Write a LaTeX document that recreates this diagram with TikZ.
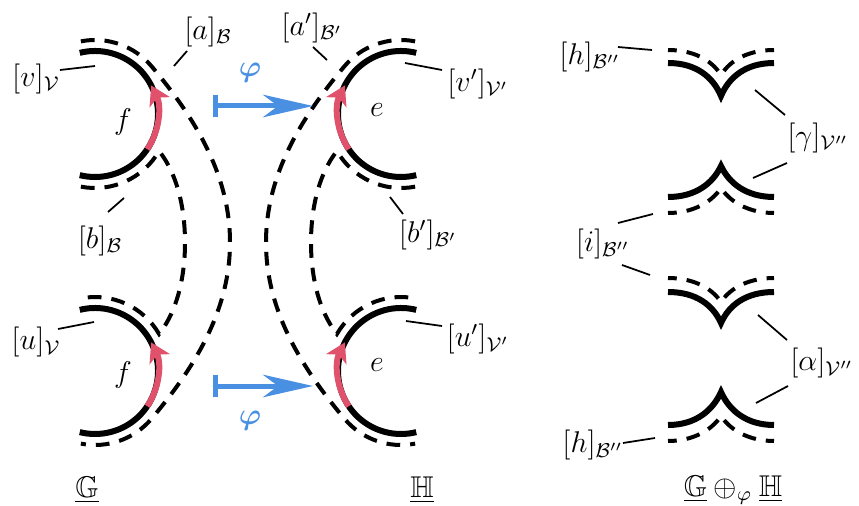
\documentclass[tikz,border=0pt]{standalone}
\usepackage{amssymb}
\usepackage{bm}
\usetikzlibrary{arrows.meta,calc}
\definecolor{phiblue}{RGB}{74,144,226}
\definecolor{edgered}{RGB}{224,82,108}
\begin{document}
\begin{tikzpicture}[x=0.4pt,y=-0.4pt,
  solidedge/.style={line width=2.4pt},
  dashedge/.style={line width=1.6pt, dash pattern=on 5.5pt off 4pt},
  vdash/.style={line width=1.6pt, dash pattern=on 5.5pt off 4pt, dash phase=2pt},
  redarc/.style={edgered, line width=2.4pt, -{Stealth[length=7.5pt,width=9pt,inset=2pt]}},
  phiarrow/.style={phiblue, line width=2pt, {Bar[width=9pt]}-{Stealth[length=20pt,width=9pt,inset=6pt]}},
  leader/.style={line width=0.7pt},
  every node/.style={font=\large, inner sep=1pt}]
\useasboundingbox (0,0) rectangle (859,506);

% vertex centres
\coordinate (GT) at (95,114);
\coordinate (GB) at (95,371);
\coordinate (HT) at (401,114);
\coordinate (HB) at (401,371);

% solid half edges
\draw[solidedge] ($(GT)+(-104:63)$) arc[start angle=-104,end angle=104,radius=63];
\draw[solidedge] ($(GB)+(-104:63)$) arc[start angle=-104,end angle=104,radius=63];
\draw[solidedge] ($(HT)+(-76:63)$) arc[start angle=-76,end angle=-284,radius=63];
\draw[solidedge] ($(HB)+(-76:63)$) arc[start angle=-76,end angle=-284,radius=63];

% red arrows
\draw[redarc] ($(GT)+(34:63)$) arc[start angle=34,end angle=-27,radius=63];
\draw[redarc] ($(GB)+(34:63)$) arc[start angle=34,end angle=-27,radius=63];
\draw[redarc] ($(HT)+(146:63)$) arc[start angle=146,end angle=207,radius=63];
\draw[redarc] ($(HB)+(146:63)$) arc[start angle=146,end angle=207,radius=63];

% dashed curves, G
\draw[dashedge] ($(GT)+(-101:74)$) arc[start angle=-101,end angle=-40,radius=74]
  .. controls (195,118) and (230,175) .. (230,242.5)
  .. controls (230,310) and (195,367) .. ($(GB)+(40:74)$)
  arc[start angle=40,end angle=101,radius=74];
\draw[dashedge] ($(GT)+(101:74)$) arc[start angle=101,end angle=30,radius=74]
  .. controls (178,175) and (185,210) .. (185,242.5)
  .. controls (185,275) and (178,310) .. ($(GB)+(-30:74)$)
  arc[start angle=-30,end angle=-101,radius=74];
% dashed curves, H
\draw[dashedge] ($(HT)+(-79:74)$) arc[start angle=-79,end angle=-140,radius=74]
  .. controls (301,118) and (266,175) .. (266,242.5)
  .. controls (266,310) and (301,367) .. ($(HB)+(140:74)$)
  arc[start angle=140,end angle=79,radius=74];
\draw[dashedge] ($(HT)+(79:74)$) arc[start angle=79,end angle=150,radius=74]
  .. controls (318,175) and (311,210) .. (311,242.5)
  .. controls (311,275) and (318,310) .. ($(HB)+(210:74)$)
  arc[start angle=210,end angle=281,radius=74];

% blue maps
\coordinate (p1a) at (213,106);
\coordinate (p1b) at (313,106);
\coordinate (p2a) at (213,386);
\coordinate (p2b) at (313,386);
\draw[phiarrow] (p1a) -- (p1b);
\draw[phiarrow] (p2a) -- (p2b);
\node[text=phiblue] (phi1) at (250,73) {$\bm{\varphi}$};
\node[text=phiblue] (phi2) at (250,421) {$\bm{\varphi}$};

% edge names
\node (f1) at (123,122) {$f$};
\node (f2) at (123,375) {$f$};
\node (e1) at (377,110) {$e$};
\node (e2) at (377,365) {$e$};

% labels G / H
\node (lv) at (36,79) {$[v]_{\mathcal V}$};
\node (la) at (208,32) {$[a]_{\mathcal B}$};
\node (lb) at (100,241) {$[b]_{\mathcal B}$};
\node (lu) at (36,342) {$[u]_{\mathcal V}$};
\node (lap) at (312,28) {$[a']_{\mathcal B'}$};
\node (lvp) at (478,84) {$[v']_{\mathcal V'}$};
\node (lbp) at (428,235) {$[b']_{\mathcal B'}$};
\node (lup) at (478,339) {$[u']_{\mathcal V'}$};

\coordinate (lv1) at (60,70);   \coordinate (lv2) at (95,66);
\coordinate (la1) at (174,66);  \coordinate (la2) at (187,51);
\coordinate (lb1) at (108,212); \coordinate (lb2) at (124,198);
\coordinate (lu1) at (58,329);  \coordinate (lu2) at (94,322);
\coordinate (lap1) at (313,47); \coordinate (lap2) at (327,60);
\coordinate (lvp1) at (405,63); \coordinate (lvp2) at (442,70);
\coordinate (lbp1) at (390,197);\coordinate (lbp2) at (403,214);
\coordinate (lup1) at (406,321);\coordinate (lup2) at (442,326);
\draw[leader] (lv1) -- (lv2);
\draw[leader] (la1) -- (la2);
\draw[leader] (lb1) -- (lb2);
\draw[leader] (lu1) -- (lu2);
\draw[leader] (lap1) -- (lap2);
\draw[leader] (lvp1) -- (lvp2);
\draw[leader] (lbp1) -- (lbp2);
\draw[leader] (lup1) -- (lup2);

% glued graph
\draw[solidedge] (668,63) .. controls (696,63) and (713,77) .. (721,96) .. controls (729,77) and (746,63) .. (774,63);
\draw[vdash] (668,50) .. controls (692,50) and (711,59) .. (721,75) .. controls (731,59) and (750,50) .. (774,50);
\draw[solidedge] (668,197) .. controls (696,197) and (713,183) .. (721,166) .. controls (729,183) and (746,197) .. (774,197);
\draw[vdash] (668,213) .. controls (692,213) and (711,203) .. (721,188) .. controls (731,203) and (750,213) .. (774,213);
\draw[solidedge] (668,292) .. controls (696,292) and (713,305) .. (721,323) .. controls (729,305) and (746,292) .. (774,292);
\draw[vdash] (668,278) .. controls (692,278) and (711,287) .. (721,302) .. controls (731,287) and (750,278) .. (774,278);
\draw[solidedge] (668,425) .. controls (696,425) and (713,410) .. (721,392) .. controls (729,410) and (746,425) .. (774,425);
\draw[vdash] (668,441) .. controls (692,441) and (711,431) .. (721,416) .. controls (731,431) and (750,441) .. (774,441);

\node (lh1) at (590,57) {$[h]_{\mathcal B''}$};
\node (lgam) at (818,138) {$[\gamma]_{\mathcal V''}$};
\node (li) at (603,244) {$[i]_{\mathcal B''}$};
\node (lalp) at (822,363) {$[\alpha]_{\mathcal V''}$};
\node (lh2) at (593,445) {$[h]_{\mathcal B''}$};

\coordinate (lh11) at (618,47);  \coordinate (lh12) at (652,50);
\coordinate (lg11) at (755,90);  \coordinate (lg12) at (785,115);
\coordinate (lg21) at (753,178); \coordinate (lg22) at (787,163);
\coordinate (li11) at (618,223); \coordinate (li12) at (653,214);
\coordinate (li21) at (622,265); \coordinate (li22) at (650,275);
\coordinate (la11) at (758,315); \coordinate (la12) at (787,340);
\coordinate (la21) at (756,403); \coordinate (la22) at (788,386);
\coordinate (lh21) at (623,443); \coordinate (lh22) at (655,438);
\draw[leader] (lh11) -- (lh12);
\draw[leader] (lg11) -- (lg12);
\draw[leader] (lg21) -- (lg22);
\draw[leader] (li11) -- (li12);
\draw[leader] (li21) -- (li22);
\draw[leader] (la11) -- (la12);
\draw[leader] (la21) -- (la22);
\draw[leader] (lh21) -- (lh22);

% titles
\node (tG) at (87,490) {$\underline{\mathbb{G}}$};
\node (tH) at (422,490) {$\underline{\mathbb{H}}$};
\node (tGH) at (733,490) {$\underline{\mathbb{G}}\oplus_{\varphi}\underline{\mathbb{H}}$};
\end{tikzpicture}
\end{document}
